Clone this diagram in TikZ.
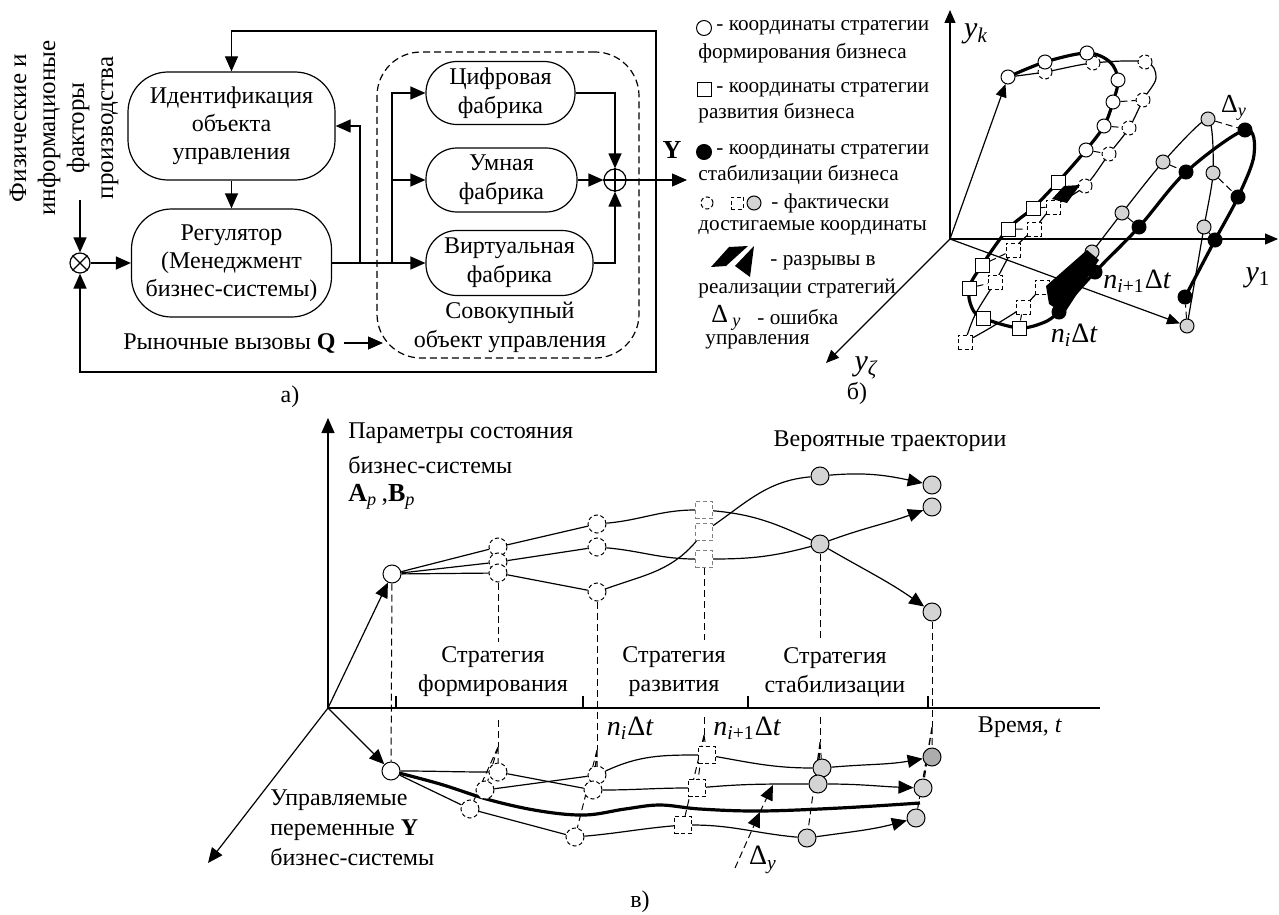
\documentclass[tikz,border=0pt]{standalone}
\usepackage{fontspec}
\setmainfont{Liberation Serif}
\usetikzlibrary{arrows.meta}
\definecolor{lgray}{RGB}{212,212,212}
\definecolor{mgray}{RGB}{172,172,172}
\pgfdeclarelayer{bgfill}
\pgfdeclarelayer{back}
\pgfsetlayers{bgfill,back,main}
\tikzset{
  arr/.style={-{Triangle[length=7.5pt,width=6.5pt]}},
  sarr/.style={-{Triangle[length=6.5pt,width=5.5pt]}},
  ln/.style={line width=0.6pt},
  thk/.style={line width=1.6pt},
  dl/.style={line width=0.5pt, dash pattern=on 3.5pt off 2pt},
  blk/.style={draw, line width=0.6pt, rounded corners=20pt, align=center, inner sep=0pt, font=\fontsize{12}{14}\selectfont},
  pill/.style={draw, line width=0.6pt, rounded corners=15.5pt, align=center, inner sep=0pt, font=\fontsize{12}{14.5}\selectfont},
  txt/.style={font=\fontsize{12}{14.5}\selectfont, align=center, inner sep=0pt},
  lg/.style={font=\fontsize{10.6}{12}\selectfont, anchor=west, inner sep=0pt},
  mlab/.style={font=\fontsize{14}{16}\selectfont, inner sep=0pt},
  wci/.style={circle, draw, fill=white, inner sep=0pt, minimum size=#1, line width=0.5pt},
  dci/.style={circle, draw, dash pattern=on 2pt off 1.3pt, fill=white, inner sep=0pt, minimum size=#1, line width=0.5pt},
  gci/.style={circle, draw, fill=lgray, inner sep=0pt, minimum size=#1, line width=0.5pt},
  bci/.style={circle, draw, fill=black, inner sep=0pt, minimum size=#1, line width=0.5pt},
  wsq/.style={rectangle, draw, fill=white, inner sep=0pt, minimum size=#1, line width=0.5pt},
  dsq/.style={rectangle, draw, dash pattern=on 2pt off 1.3pt, fill=white, inner sep=0pt, minimum size=#1, line width=0.5pt},
}
\begin{document}
\begin{tikzpicture}[x=0.5pt,y=-0.5pt]
\useasboundingbox (0,0) rectangle (1279,915);
\begin{pgfonlayer}{bgfill}
\fill[white] (0,0) rectangle (1279,915);
\end{pgfonlayer}

% ================= a) =================
\node[txt, rotate=90, font=\fontsize{12.5}{14.5}\selectfont] (fact) at (64,128) {Физические и\\информационые\\факторы\\производства};
\node[circle, draw, ln, minimum size=10pt, inner sep=0pt] (mult) at (80,263) {};
\draw[ln] (mult.north west) -- (mult.south east) (mult.north east) -- (mult.south west);
\node[blk, minimum width=103.5pt, minimum height=54pt] (ident) at (231.5,126) {Идентификация\\объекта\\управления};
\node[blk, minimum width=100pt, minimum height=54pt] (reg) at (231.5,263) {Регулятор\\(Менеджмент\\бизнес-системы)};
\node[draw, ln, dash pattern=on 3.5pt off 2pt, rounded corners=22pt, minimum width=131pt, minimum height=153pt] (agg) at (508,205) {};
\node[pill, minimum width=74.5pt, minimum height=31.5pt] (cif) at (500.5,93) {Цифровая\\фабрика};
\node[pill, minimum width=75.5pt, minimum height=32pt] (umn) at (501.5,180) {Умная\\фабрика};
\node[pill, minimum width=83.5pt, minimum height=32.5pt] (virt) at (509.5,263) {Виртуальная\\фабрика};
\node[circle, draw, ln, minimum size=11pt, inner sep=0pt] (plus) at (615,180) {};
\draw[ln] (plus.north) -- (plus.south) (plus.west) -- (plus.east);

\coordinate (fin) at (80,200);
\draw[ln, arr] (fin) -- (mult.north);
\draw[ln, arr] (mult.east) -- (reg.west);
\draw[ln, arr] (ident.south) -- (reg.north);
\coordinate (j1) at (360,263);
\coordinate (j2) at (392,263);
\draw[ln, arr] (reg.east) -- (virt.west);
\draw[ln, arr] (j1) |- (ident.east);
\draw[ln, arr] (j2) |- (cif.west);
\draw[ln, arr] (j2) |- (umn.west);
\draw[ln, arr] (cif.east) -| (plus.north);
\draw[ln, arr] (umn.east) -- (plus.west);
\draw[ln, arr] (virt.east) -| (plus.south);
\coordinate (yout) at (687,180);
\coordinate (tap) at (656,180);
\draw[ln, arr] (plus.east) -- (yout);
\node[font=\fontsize{13}{15}\selectfont\bfseries, inner sep=0pt] (ylab) at (672,150) {Y};
\draw[ln, arr] (tap) -- (656,31) -| (ident.north);
\draw[ln, arr] (tap) -- (656,372) -| (mult.south);
\node[txt] (agglab) at (510,327) {Совокупный\\объект управления};
\node[txt, anchor=east] (q) at (336,343) {Рыночные вызовы \textbf{Q}};
\coordinate (qend) at (383,343);
\draw[ln, arr] ([xshift=4pt]q.east) -- (qend);
\node[txt] (la) at (290,397) {а)};

% ================= b) legend =================
\node[wci=7.5pt] (lg1) at (704,28) {};
\node[lg] (lt1) at (716,28) {- координаты стратегии};
\node[lg] (lt1b) at (698,53) {формирования бизнеса};
\node[wsq=7pt] (lg2) at (704,90) {};
\node[lg] (lt2) at (716,90) {- координаты стратегии};
\node[lg] (lt2b) at (698,113) {развития бизнеса};
\node[bci=7.5pt] (lg3) at (704,152) {};
\node[lg] (lt3) at (716,152) {- координаты стратегии};
\node[lg] (lt3b) at (698,175) {стабилизации бизнеса};
\node[dci=6pt] (lg4a) at (707,203) {};
\node[dsq=6pt] (lg4b) at (737,203) {};
\node[gci=7pt] (lg4c) at (754,203) {};
\node[lg] (lt4) at (771,203) {- фактически};
\node[lg] (lt4b) at (698,228) {достигаемые координаты};
\fill (711,267) -- (729,247) -- (748,246) -- (726,266) -- cycle;
\fill (735,266) -- (754,246) -- (750,277) -- cycle;
\node[lg] (lt5) at (770,263) {- разрывы в};
\node[lg] (lt5b) at (698,288) {реализации стратегий};
\node[lg, font=\fontsize{13}{15}\selectfont] (lt6d) at (711,318) {Δ\,\textsubscript{\itshape y}};
\node[lg] (lt6) at (757,317) {- ошибка};
\node[lg] (lt6b) at (705,342) {управления};
\node[txt] (lb) at (857,393) {б)};

% ================= b) 3D =================
\coordinate (O3) at (950,239);
\coordinate (ykt) at (950,10);
\coordinate (y1t) at (1278,239);
\coordinate (yzt) at (826,363);
\draw[ln, sarr] (O3) -- (ykt);
\draw[ln, sarr] (O3) -- (y1t);
\draw[ln, sarr] (O3) -- (yzt);
\node[mlab, font=\fontsize{15}{17}\selectfont] (lyk) at (976,34) {\itshape y\textsubscript{k}};
\node[mlab, font=\fontsize{15}{17}\selectfont] (ly1) at (1258,278) {\itshape y\textsubscript{\upshape 1}};
\node[mlab, font=\fontsize{15}{17}\selectfont] (lyz) at (866,368) {\itshape y\textsubscript{ζ}};

% planned markers
\node[wci=7pt] (w1) at (1008,77) {};
\node[dci=7pt] (d1) at (1045,72) {};
\node[wci=7pt] (w2) at (1045,62) {};
\node[dci=7pt] (d2) at (1093,63) {};
\node[wci=7pt] (w3) at (1087,53) {};
\node[dci=7pt] (d3) at (1145,62) {};
\node[wci=7pt] (w4) at (1118,80) {};
\node[dci=7pt] (d4) at (1143,100) {};
\node[wci=7pt] (w5) at (1113,102) {};
\node[dci=7pt] (d5) at (1129,128) {};
\node[wci=7pt] (w6) at (1104,126) {};
\node[dci=7pt] (d6) at (1109,154) {};
\node[wci=7pt] (w7) at (1086,150) {};
\node[dci=7pt] (d7) at (1085,186) {};
\node[dsq=7pt] (ds1) at (1053,207) {};
\node[dsq=7pt] (ds2) at (1034,229) {};
\node[dsq=7pt] (ds3) at (1013,250) {};
\node[dsq=7pt] (ds4) at (995,282) {};
\node[dsq=7pt] (ds5) at (965,342) {};
\node[dsq=7pt] (ds6) at (1023,307) {};
\node[dsq=7pt] (ds7) at (1042,287) {};
\node[wsq=7pt] (s1) at (1058,182) {};
\node[wsq=7pt] (s2) at (1033,208) {};
\node[wsq=7pt] (s3) at (1008,229) {};
\node[wsq=7pt] (s4) at (982,265) {};
\node[wsq=7pt] (s5) at (969,288) {};
\node[wsq=7pt] (s6) at (983,318) {};
\node[wsq=7pt] (s7) at (1019,328) {};
\node[gci=7pt] (g1) at (1092,252) {};
\node[gci=7pt] (g2) at (1122,213) {};
\node[gci=7pt] (g3) at (1163,162) {};
\node[gci=7pt] (g4) at (1208,119) {};
\node[gci=7pt] (g5) at (1213,173) {};
\node[gci=7pt] (g6) at (1204,227) {};
\node[gci=7pt] (g7) at (1187,326) {};
\node[bci=7pt] (b1) at (1059,312) {};
\node[bci=7pt] (b2) at (1095,272) {};
\node[bci=7pt] (b3) at (1139,227) {};
\node[bci=7pt] (b4) at (1186,172) {};
\node[bci=7pt] (b5) at (1245,130) {};
\node[bci=7pt] (b6) at (1238,197) {};
\node[bci=7pt] (b7) at (1215,240) {};
\node[bci=7pt] (b8) at (1185,297) {};

\begin{pgfonlayer}{back}
\draw[thk] plot[smooth, tension=0.55] coordinates {(w1) (w2) (w3) (1110,62) (w4) (w5) (w6) (w7) (s1) (s2) (s3) (s4) (s5) (972,308) (s6) (s7) (1045,322) (b1)};
\draw[thk] plot[smooth, tension=0.55] coordinates {(b1) (b2) (b3) (b4) (b5) (1254,155) (b6) (b7) (b8)};
\draw[ln] plot[smooth, tension=0.55] coordinates {(w1) (d1) (d2) (d3) (1156,78) (d4) (d5) (d6) (d7) (ds1) (ds2) (ds3) (ds4) (975,315) (ds5)};
\draw[ln] plot[smooth, tension=0.5] coordinates {(ds5) (990,328) (ds6) (ds7)};
\draw[ln] plot[smooth, tension=0.4] coordinates {(g1) (g2) (g3) (g4) (g5) (g6) (g7)};
\draw[dl] (w5) -- (d4) (w6) -- (d5) (w7) -- (d6) (s2) -- (ds1) (s3) -- (ds2) (s4) -- (ds3) (s5) -- (ds4) (s7) -- (ds6);
\draw[dl] (g2) -- (b3) (g3) -- (b4) (g4) -- (b5) (g5) -- (b6) (g6) -- (b7) (g7) -- (b8);
\end{pgfonlayer}
\fill (1052,199) -- (1064,186) -- (1080,185) -- (1067,203) -- cycle;
\fill (1046,286) -- (1087,250) -- (1099,260) -- (1064,314) -- (1049,304) -- cycle;
\draw[ln, sarr] (O3) -- (w1);
\draw[ln, sarr] (O3) -- (g7);
\node[font=\fontsize{13}{15}\selectfont, inner sep=0pt] (ldy) at (1234,108) {Δ\textsubscript{\itshape y}};
\node[mlab] (lni1) at (1137,281) {\itshape n\textsubscript{i\upshape +1}\upshape Δ\itshape t};
\node[mlab] (lni) at (1074,335) {\itshape n\textsubscript{i}\upshape Δ\itshape t};

% ================= c) =================
\coordinate (O) at (328,708);
\coordinate (Otop) at (328,418);
\coordinate (Oend) at (1100,708);
\coordinate (Odl) at (208,863);
\draw[ln, arr] (O) -- (Otop);
\draw[ln] (O) -- (Oend);
\draw[ln, arr] (O) -- (Odl);
\foreach \tx in {396,583,748,928} \draw[ln] (\tx,708) -- (\tx,696);

\node[wci=9pt] (W0) at (392,574) {};
\node[wci=9pt] (W1) at (391,771) {};
\node[dci=9pt] (A1) at (498,547) {};
\node[dci=9pt] (A2) at (498,562) {};
\node[dci=9pt] (A3) at (498,573) {};
\node[dci=9pt] (B1) at (597,524) {};
\node[dci=9pt] (B2) at (597,547) {};
\node[dci=9pt] (B3) at (597,592) {};
\node[dsq=8.5pt, draw=gray] (C1) at (704,510) {};
\node[dsq=8.5pt, draw=gray] (C2) at (704,532) {};
\node[dsq=8.5pt, draw=gray] (C3) at (704,559) {};
\node[gci=9pt] (G1) at (820,476) {};
\node[gci=9pt] (G2) at (820,544) {};
\node[gci=9pt] (E1) at (932,485) {};
\node[gci=9pt] (E2) at (932,507) {};
\node[gci=9pt] (E3) at (932,612) {};

\node[dci=9pt] (LA1) at (498,772) {};
\node[dci=9pt] (LA2) at (485,790) {};
\node[dci=9pt] (LA3) at (470,809) {};
\node[dci=9pt] (LB1) at (597,775) {};
\node[dci=9pt] (LB2) at (593,790) {};
\node[dci=9pt] (LB3) at (575,837) {};
\node[dsq=8.5pt] (LC1) at (707,755) {};
\node[dsq=8.5pt] (LC2) at (697,788) {};
\node[dsq=8.5pt] (LC3) at (683,825) {};
\node[gci=9pt] (LG1) at (822,768) {};
\node[gci=9pt] (LG2) at (818,784) {};
\node[gci=9pt] (LG3) at (807,838) {};
\node[gci=9pt, fill=mgray] (LE1) at (932,757) {};
\node[gci=9pt] (LE2) at (923,788) {};
\node[gci=9pt] (LE3) at (916,818) {};

\draw[ln, arr] (O) -- (W0);
\draw[ln, arr] (O) -- (W1);

\begin{pgfonlayer}{back}
% upper trajectories
\draw[ln] (W0) -- (A1) (W0) -- (A2) (W0) -- (A3);
\draw[ln] (A1) -- (B1) (A2) -- (B2) (A3) -- (B3);
\draw[ln] (B1) to[out=5,in=180] (C1);
\draw[ln] (B2) to[out=-5,in=180] (C3);
\draw[ln] (B3) to[out=20,in=230] (C2);
\draw[ln] (C2) to[out=35,in=185] (G1);
\draw[ln] (C1) to[out=-5,in=155] (G2);
\draw[ln] (C3) to[out=0,in=195] (G2);
% projections
\draw[dl] (W0) -- (W1);
\coordinate (pA) at (498,642); \coordinate (pAt) at (498,720); \coordinate (aA) at (498,747);
\coordinate (aB) at (597,750);
\coordinate (pC) at (704,640); \coordinate (pCt) at (704,717); \coordinate (aC) at (704,735);
\coordinate (pG) at (820,640); \coordinate (pGt) at (820,717); \coordinate (aG) at (820,742);
\coordinate (aE) at (932,727);
\draw[dl] (A3) -- (pA) (pAt) -- (aA);
\draw[dl] (B3) -- (aB);
\draw[dl] (C3) -- (pC) (pCt) -- (aC);
\draw[dl] (G2) -- (pG) (pGt) -- (aG);
\draw[dl] (E3) -- (aE);
\draw[dl] (aA) -- (LA1) (aA) -- (LA2) (aA) -- (LA3);
\draw[dl] (aB) -- (LB1) (aB) -- (LB2) (aB) -- (LB3);
\draw[dl] (aC) -- (LC1) (aC) -- (LC2) (aC) -- (LC3);
\draw[dl] (aG) -- (LG1) (aG) -- (LG2) (aG) -- (LG3);
\draw[dl] (aE) -- (LE1) (aE) -- (LE2) (aE) -- (LE3);
% lower trajectories
\coordinate (thE) at (920,803);
\draw[thk] plot[smooth, tension=0.6] coordinates {(W1) (440,784) (490,800) (540,811) (585,815) (625,809) (660,805) (700,809) (760,811) (840,808) (thE)};
\draw[ln] (W1) to[out=0,in=180] (LA1);
\draw[ln] (W1) -- (LA3);
\draw[ln] (LA1) -- (LB2);
\draw[ln] (LA2) -- (LB1);
\draw[ln] (LA3) -- (LB3);
\draw[ln] (LB1) to[out=25,in=180] (LC1);
\draw[ln] (LB2) to[out=0,in=180] (LC2);
\draw[ln] (LB3) to[out=5,in=185] (LC3);
\draw[ln] (LC1) to[out=-10,in=180] (LG1);
\draw[ln] (LC2) to[out=5,in=180] (LG2);
\draw[ln] (LC3) to[out=0,in=175] (LG3);
\end{pgfonlayer}
\draw[ln, arr] (G1) to[out=5,in=168] (E1);
\draw[ln, arr] (G2) to[out=20,in=200] (E2);
\draw[ln, arr] (G2) to[out=-30,in=145] (E3);
\draw[ln, arr] (LG1) to[out=5,in=190] (LE1);
\draw[ln, arr] (LG2) to[out=0,in=178] (LE2);
\draw[ln, arr] (LG3) to[out=8,in=195] (LE3);

\coordinate (dyS) at (735,868);
\coordinate (dyM) at (760,812);
\coordinate (dyT) at (773,785);
\draw[dl, arr] (dyS) -- (dyM);
\draw[dl, arr] (dyM) -- (dyT);
\node[font=\fontsize{14}{16}\selectfont, inner sep=0pt] (ldy2) at (763,860) {Δ\textsubscript{\itshape y}};

% labels
\node[txt, anchor=west] (lp1) at (348,433) {Параметры состояния};
\node[txt, anchor=west] (lp2) at (348,465) {бизнес-системы};
\node[txt, anchor=west, font=\fontsize{13}{15}\selectfont] (lp3) at (348,497) {\textbf{A}\textsubscript{\itshape p}\,,\textbf{B}\textsubscript{\itshape p}};
\node[txt] (lver) at (890,441) {Вероятные траектории};
\node[txt] (ls1) at (493,672) {Стратегия\\формирования};
\node[txt] (ls2) at (674,672) {Стратегия\\развития};
\node[txt] (ls3) at (835,672) {Стратегия\\стабилизации};
\node[mlab] (lni2) at (630,728) {\itshape n\textsubscript{i}\upshape Δ\itshape t};
\node[mlab] (lni3) at (747,728) {\itshape n\textsubscript{i\upshape +1}\upshape Δ\itshape t};
\node[txt] (ltime) at (1020,727) {Время, \textit{t}};
\node[txt, align=left, anchor=west, font=\fontsize{12}{15}\selectfont] (lu) at (270,828) {Управляемые\\переменные \textbf{Y}\\бизнес-системы};
\node[txt] (lc) at (640,902) {в)};
\end{tikzpicture}
\end{document}
